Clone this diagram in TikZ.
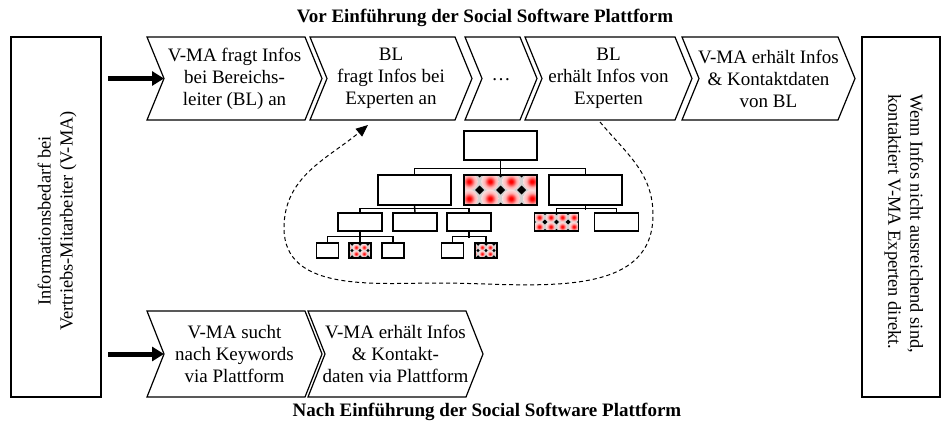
\documentclass[tikz,border=0pt]{standalone}
\usepackage{fontspec}
\setmainfont{Liberation Serif}
\usetikzlibrary{arrows.meta,calc}
\colorlet{patbg}{gray!35}
\colorlet{patring}{gray!5}
\colorlet{patmid}{red!30!white}
\pgfdeclareradialshading{reddot}{\pgfpointorigin}{color(0bp)=(red); color(4bp)=(red); color(16bp)=(patmid); color(32bp)=(patring); color(46bp)=(patring); color(50bp)=(patbg); color(100bp)=(patbg)}
\newcommand{\chevpath}[5]{%
  \draw[chev] (#1,#3) -- (#2,#3) -- ({#2+#5},{(#3+#4)/2}) -- (#2,#4) -- (#1,#4) -- ({#1+#5},{(#3+#4)/2}) -- cycle;}
\begin{document}
\begin{tikzpicture}[x=0.5pt,y=-0.5pt,
  chev/.style={draw, line width=0.6pt, line join=miter},
  ctext/.style={align=center, font=\fontsize{9.5}{11}\selectfont, inner sep=0pt},
  titletext/.style={font=\fontsize{9.5}{11}\selectfont\bfseries, inner sep=0pt},
  sidebox/.style={draw, line width=1.4pt, inner sep=0pt},
  sidetext/.style={font=\fontsize{9.2}{11}\selectfont, inner sep=0pt},
  obox/.style={draw, line width=0.7pt, fill=white, inner sep=0pt},
  oline/.style={line width=0.7pt},
  bigarrow/.style={line width=2.5pt, -{Triangle[length=6pt,width=7pt]}},
  looparrow/.style={line width=0.5pt, dash pattern=on 2pt off 1.5pt, -{Triangle[length=6pt,width=5pt]}},
  pat/.style={path picture={
    \fill[patbg] (path picture bounding box.south west) rectangle (path picture bounding box.north east);
    \foreach \i in {-5,...,4} \foreach \j in {-3,...,2}
      \shade[shading=reddot] ([shift={({(\i+0.5)*21*#1},{(\j+0.5)*17*#1})}]path picture bounding box.center) circle[radius={4.4pt*#1}];
    \foreach \i in {-5,...,5} \foreach \j in {-3,...,3}
      \fill[black] ([shift={({\i*21*#1},{\j*17*#1})}]path picture bounding box.center) ++({-4.5*#1},0) -- ++({4.5*#1},{-4.5*#1}) -- ++({4.5*#1},{4.5*#1}) -- ++({-4.5*#1},{4.5*#1}) -- cycle;
  }}
]
\useasboundingbox (0,0) rectangle (942,423);

% titles
\node[titletext] (t1) at (485,18) {Vor Einführung der Social Software Plattform};
\node[titletext] (t2) at (487,412) {Nach Einführung der Social Software Plattform};

% side boxes
\node[sidebox, minimum width=45pt, minimum height=180pt] (lbox) at (56,217) {};
\node[sidetext, rotate=90, align=center] (ltext) at (57,221) {Informationsbedarf bei\\Vertriebs-Mitarbeiter (V-MA)};
\node[sidebox, minimum width=39pt, minimum height=180pt] (rbox) at (901,217) {};
\node[sidetext, rotate=-90, align=left, anchor=west] (rtext) at (904,94) {Wenn Infos nicht ausreichend sind,\\kontaktiert V-MA Experten direkt.};

% top chevrons
\chevpath{147}{305}{37}{120}{17}
\chevpath{310}{455}{37}{120}{17}
\chevpath{465}{520}{37}{120}{17}
\chevpath{525}{675}{37}{120}{17}
\chevpath{682}{838}{37}{120}{17}
\node[ctext] (c1) at (234.5,78.5) {V-MA fragt Infos\\bei Bereichs-\\leiter (BL) an};
\node[ctext] (c2) at (391,78.5) {BL\\fragt Infos bei\\Experten an};
\node[ctext] (c3) at (501,80) {\dots};
\node[ctext] (c4) at (608.5,78.5) {BL\\erhält Infos von\\Experten};
\node[ctext] (c5) at (768.5,78.5) {V-MA erhält Infos\\\& Kontaktdaten\\von BL};
\coordinate (c1n) at (164,78.5);

% bottom chevrons
\chevpath{147}{305}{311}{397}{17}
\chevpath{308}{466}{311}{397}{17}
\node[ctext] (b1) at (234.5,354) {V-MA sucht\\nach Keywords\\via Plattform};
\node[ctext] (b2) at (395.5,354) {V-MA erhält Infos\\\& Kontakt-\\daten via Plattform};
\coordinate (b1n) at (164,354);

% thick arrows
\coordinate (a1s) at (108,78.5);
\coordinate (a2s) at (108,354);
\draw[bigarrow] (a1s) -- (c1n);
\draw[bigarrow] (a2s) -- (b1n);

% org chart
\node[obox, minimum width=36.5pt, minimum height=14.5pt] (top) at (500.5,145.5) {};
\node[obox, minimum width=36.5pt, minimum height=15pt] (L) at (414.5,190) {};
\node[obox, minimum width=36.5pt, minimum height=15pt, pat=1] (M) at (500.5,190) {};
\node[obox, minimum width=36.5pt, minimum height=15pt] (R) at (585.5,190) {};
\node[obox, minimum width=22pt, minimum height=9pt] (a) at (360,222) {};
\node[obox, minimum width=22pt, minimum height=9pt] (b) at (415,222) {};
\node[obox, minimum width=22pt, minimum height=9pt] (c) at (469,222) {};
\node[obox, minimum width=22pt, minimum height=9pt, pat=0.55] (d) at (556.5,222) {};
\node[obox, minimum width=22pt, minimum height=9pt] (e) at (616.5,222) {};
\node[obox, minimum width=11pt, minimum height=7.5pt] (a1) at (327.5,250.5) {};
\node[obox, minimum width=11pt, minimum height=7.5pt, pat=0.38] (a2) at (360,250.5) {};
\node[obox, minimum width=11pt, minimum height=7.5pt] (a3) at (393,250.5) {};
\node[obox, minimum width=11pt, minimum height=7.5pt] (cc1) at (452.5,250.5) {};
\node[obox, minimum width=11pt, minimum height=7.5pt, pat=0.38] (cc2) at (486,250.5) {};

\draw[oline] (top.south) -- (M.north);
\draw[oline] (L.north) -- ++(0,-6) -| (R.north);
\draw[oline] (L.south) -- (b.north);
\draw[oline] (a.north) -- ++(0,-4) -| (c.north);
\draw[oline] (R.south) -- ++(0,4);
\draw[oline] (d.north) -- ++(0,-4) -| (e.north);
\draw[oline] (a.south) -- (a2.north);
\draw[oline] (a1.north) -- ++(0,-6) -| (a3.north);
\draw[oline] (c.south) -- ++(0,6);
\draw[oline] (cc1.north) -- ++(0,-6) -| (cc2.north);

% dashed loop
\coordinate (c4b) at (600,122);
\coordinate (k1) at (653,215);
\coordinate (k2) at (440,283);
\coordinate (k3) at (284,228);
\coordinate (c2b) at (368,125);
\draw[looparrow] (c4b) to[out=-50,in=90] (k1) to[out=-90,in=0] (k2) to[out=180,in=-90] (k3) to[out=90,in=-140] (c2b);
\end{tikzpicture}
\end{document}
